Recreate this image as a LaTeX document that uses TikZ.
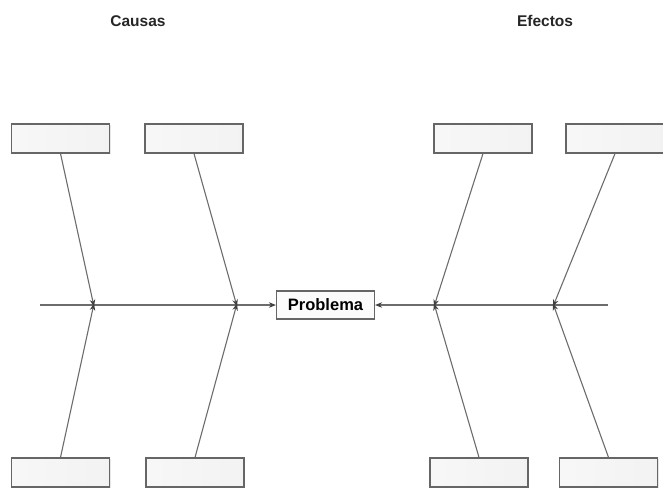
\documentclass[tikz,border=0pt]{standalone}
\usepackage{fontspec}
\setmainfont{Liberation Sans}
\usetikzlibrary{arrows.meta,shadows}
\begin{document}
\begin{tikzpicture}[x=1pt,y=-1pt,
  bone/.style={draw=gray!85!black,line width=1.1pt},
  tip/.style={-{Stealth[length=7pt,width=5.5pt,color=black!75]}},
  slot/.style={draw=gray!80!black,line width=1.2pt,
    left color=gray!6,right color=gray!10,
    minimum width=98pt,minimum height=29pt,inner sep=0pt,
    drop shadow={shadow xshift=1pt,shadow yshift=-1pt,opacity=0.2}},
  title/.style={font=\bfseries\fontsize{15.5}{18}\selectfont,text=black!85}]
\useasboundingbox (0,0) rectangle (663,491);

% headings
\node[title] (causas) at (138,21) {Causas};
\node[title] (efectos) at (545,21) {Efectos};

% central problem
\node[draw=gray!80!black,line width=1.2pt,fill=gray!3,minimum width=98pt,
  minimum height=28pt,inner sep=0pt,font=\bfseries\fontsize{16.5}{19}\selectfont]
  (prob) at (325.5,305) {Problema};

% spine
\coordinate (L) at (40,305);
\coordinate (R) at (608,305);
\coordinate (c1) at (94,305);
\coordinate (c2) at (237,305);
\coordinate (e1) at (434,305);
\coordinate (e2) at (553,305);
\draw[bone,tip] (L) -- (prob.west);
\draw[bone,tip] (R) -- (prob.east);

% cause boxes
\node[slot] (ct1) at (60.5,138.5) {};
\node[slot] (ct2) at (194,138.5) {};
\node[slot] (cb1) at (60.5,472.5) {};
\node[slot] (cb2) at (195,472.5) {};
% effect boxes
\node[slot] (et1) at (483,138.5) {};
\node[slot] (et2) at (615,138.5) {};
\node[slot] (eb1) at (479,472.5) {};
\node[slot] (eb2) at (608.5,472.5) {};

% bones
\draw[bone,tip] (ct1.south) -- ([yshift=-1.5pt]c1);
\draw[bone,tip] (cb1.north) -- ([yshift=1.5pt]c1);
\draw[bone,tip] (ct2.south) -- ([yshift=-1.5pt]c2);
\draw[bone,tip] (cb2.north) -- ([yshift=1.5pt]c2);
\draw[bone,tip] (et1.south) -- ([yshift=-1.5pt]e1);
\draw[bone,tip] (eb1.north) -- ([yshift=1.5pt]e1);
\draw[bone,tip] (et2.south) -- ([yshift=-1.5pt]e2);
\draw[bone,tip] (eb2.north) -- ([yshift=1.5pt]e2);
\end{tikzpicture}
\end{document}
